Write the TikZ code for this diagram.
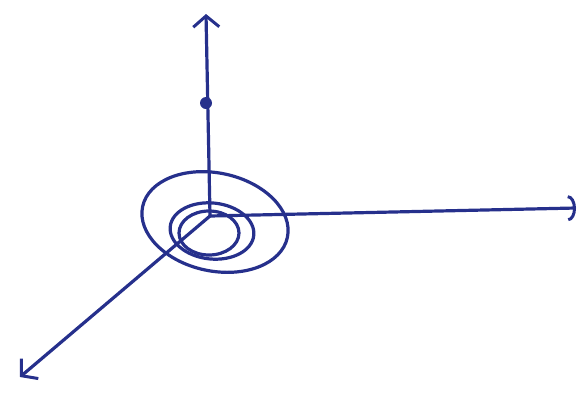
\documentclass[tikz,border=0pt]{standalone}
\usepackage{tikz}
\usetikzlibrary{arrows.meta}
\definecolor{penink}{RGB}{38,48,140}
\tikzset{
  pen/.style={draw=penink, line width=3.2pt, line cap=round, line join=round},
  axis/.style={pen, -{Straight Barb[length=11pt,width=26pt,line width=3pt]}},
  raxis/.style={pen, -{Arc Barb[length=8pt,width=26pt,line width=3pt]}},
  dotmark/.style={circle, fill=penink, inner sep=0pt, minimum size=12pt}
}
\begin{document}
\begin{tikzpicture}[x=1pt,y=-1pt]
  \useasboundingbox (0,0) rectangle (584,397);
  \coordinate (O) at (210,216);
  \coordinate (ztop) at (206,14);
  \coordinate (xend) at (576,208);
  \coordinate (yend) at (20,377);
  % axes
  \draw[axis] (O) -- (ztop);
  \draw[raxis] (O) -- (xend);
  \draw[axis] (O) -- (yend);
  % point on the vertical axis
  \node[dotmark] (p) at (206,103) {};
  % rings round the origin
  \draw[pen, rotate around={-12:(215,222)}] (215,222) ellipse [x radius=74, y radius=49];
  \draw[pen, rotate around={-6:(212,231)}] (212,231) ellipse [x radius=42, y radius=28];
  \draw[pen] (209,233) ellipse [x radius=30, y radius=22];
\end{tikzpicture}
\end{document}
